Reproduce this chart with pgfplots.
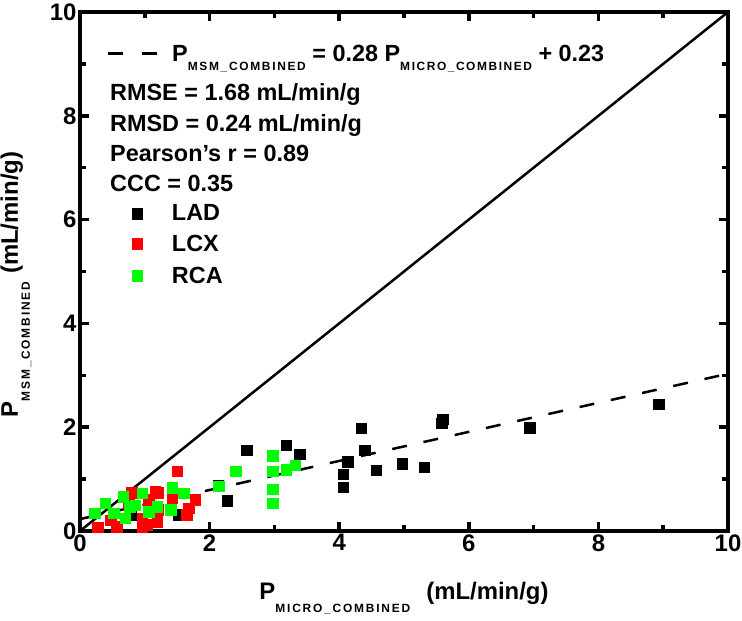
\documentclass[border=0pt]{standalone}
\usepackage{pgfplots}
\pgfplotsset{compat=1.18}
\usepackage{fontspec}
\setmainfont{Liberation Sans}
\newcommand\sub[3]{\raisebox{-#3}{\fontsize{12}{12}\selectfont\bfseries\addfontfeatures{LetterSpace=#2}#1}}
\pgfplotsset{
  base/.style={at={(0bp,0bp)}, anchor=south west, scale only axis, width=648bp, height=519bp,
    xmin=0, xmax=10, ymin=0, ymax=10},
  hidden/.style={base, hide axis},
  sq legend/.style={legend image code/.code={\path[draw=none,fill=none] (0bp,0bp) -- (49bp,0bp); \draw[##1] plot coordinates {(29bp,0bp)};}},
  catlegend/.style={legend style={at={(axis cs:0.432,#1)}, anchor=west, draw=none, fill=none,
    inner sep=0pt, outer sep=0pt, font=\fontsize{23.5}{23.5}\selectfont\bfseries,
    column sep=15bp, nodes={inner sep=0pt, outer sep=0pt}}, legend cell align=left},
}
\begin{document}
\begin{tikzpicture}
\useasboundingbox (-80bp,-90bp) rectangle (662bp,531bp);
\begin{axis}[
  base,
  xtick={0,2,...,10}, ytick={0,2,...,10},
  minor x tick num=1, minor y tick num=1,
  tick align=inside, major tick length=9bp, minor tick length=6bp,
  every tick/.style={black, line width=3.5bp},
  axis line style={line width=4.5bp},
  tick label style={font=\fontsize{24}{24}\selectfont\bfseries},
  /pgf/number format/assume math mode=true,
  every axis x label/.style={at={(axis description cs:0.5,-0.129)}, anchor=center, font=\fontsize{24}{24}\selectfont\bfseries},
  every axis y label/.style={at={(axis description cs:-0.099,0.475)}, rotate=90, anchor=center, font=\fontsize{24}{24}\selectfont\bfseries},
  xlabel={P\sub{MICRO\_COMBINED}{15}{13bp}\hspace{16bp}(mL/min/g)},
  ylabel={P\sub{MSM\_COMBINED}{15}{12bp}\hspace{8bp}(mL/min/g)},
  catlegend=6.116,
]
\addplot[only marks, mark=square*, black, mark size=5.25bp, sq legend] coordinates {
(0.78,0.30) (1.52,0.31) (2.13,0.88) (2.27,0.58) (2.57,1.56) (3.18,1.65) (3.39,1.48)
(4.06,0.84) (4.06,1.09) (4.13,1.34) (4.34,1.98) (4.39,1.56) (4.57,1.17) (4.97,1.30)
(5.31,1.23) (5.58,2.08) (5.60,2.15) (6.94,1.99) (8.93,2.44)};
\addlegendentry{LAD}
\addplot[only marks, mark=square*, red, mark size=5.25bp, forget plot] coordinates {
(0.27,0.07) (0.57,0.08) (0.47,0.21) (0.96,0.08) (0.96,0.25) (1.03,0.12) (0.80,0.74)
(1.16,0.76) (1.21,0.74) (1.19,0.18) (1.21,0.41) (1.06,0.60) (1.42,0.63) (1.50,1.15)
(1.65,0.31) (1.68,0.44) (1.78,0.60) (0.75,0.55)};
\addplot[only marks, mark=square*, green, mark size=5.25bp, forget plot] coordinates {
(0.23,0.34) (0.39,0.54) (0.52,0.34) (0.67,0.66) (0.70,0.25) (0.77,0.47) (0.85,0.50)
(0.96,0.73) (1.06,0.37) (1.19,0.47) (1.40,0.41) (1.42,0.83) (1.60,0.73) (2.14,0.86)
(2.40,1.15) (2.97,1.45) (2.97,1.15) (2.97,0.81) (2.97,0.54) (3.18,1.18) (3.32,1.27)};
\addplot[black, line width=2.5bp, forget plot] coordinates {(0,0) (10,10)};
\addplot[black, line width=2.5bp, dash pattern=on 15bp off 17bp, forget plot] coordinates {(0,0.23) (10,3.03)};
% equation line sample and annotation texts
\draw[black, line width=2.5bp, dash pattern=on 15bp off 19bp] (axis cs:0.432,9.204) -- (axis cs:1.188,9.204);
\begin{scope}[every node/.style={anchor=base west, inner sep=0pt, font=\fontsize{23.5}{23.5}\selectfont\bfseries}]
\node at (axis cs:1.42,9.037) {P\sub{MSM\_COMBINED}{14}{9bp} = 0.28 P\sub{MICRO\_COMBINED}{13}{9bp} + 0.23};
\node at (axis cs:0.463,8.304) {RMSE = 1.68 mL/min/g};
\node at (axis cs:0.463,7.688) {RMSD = 0.24 mL/min/g};
\node at (axis cs:0.463,7.129) {Pearson's r = 0.89};
\node at (axis cs:0.463,6.551) {CCC = 0.35};
\end{scope}
\end{axis}
\begin{axis}[hidden, catlegend=5.537]
\addlegendimage{only marks, mark=square*, red, mark size=5.25bp, sq legend}
\addlegendentry{LCX}
\end{axis}
\begin{axis}[hidden, catlegend=4.920]
\addlegendimage{only marks, mark=square*, green, mark size=5.25bp, sq legend}
\addlegendentry{RCA}
\end{axis}
\end{tikzpicture}
\end{document}
